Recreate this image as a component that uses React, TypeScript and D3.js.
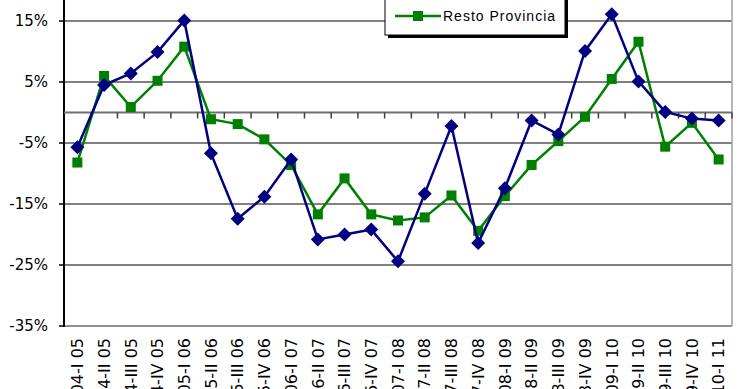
import React from "react";
import * as d3 from "d3";

const categories = [
  "I 04-I 05", "II 04-II 05", "III 04-III 05", "IV 04-IV 05",
  "I 05-I 06", "II 05-II 06", "III 05-III 06", "IV 05-IV 06",
  "I 06-I 07", "II 06-II 07", "III 06-III 07", "IV 06-IV 07",
  "I 07-I 08", "II 07-II 08", "III 07-III 08", "IV 07-IV 08",
  "I 08-I 09", "II 08-II 09", "III 08-III 09", "IV 08-IV 09",
  "I 09-I 10", "II 09-II 10", "III 09-III 10", "IV 09-IV 10",
  "I 10-I 11",
];

const blueValues = [
  -5.7, 4.5, 6.4, 9.9, 15.1, -6.7, -17.4, -13.8, -7.7, -20.8, -20.0, -19.2,
  -24.4, -13.3, -2.2, -21.4, -12.4, -1.3, -3.6, 10.1, 16.1, 5.1, 0.1, -1.0, -1.3,
];

const greenValues = [
  -8.2, 6.0, 0.9, 5.2, 10.8, -1.1, -1.9, -4.4, -8.6, -16.7, -10.8, -16.7,
  -17.7, -17.2, -13.6, -19.4, -13.7, -8.6, -4.7, -0.7, 5.5, 11.6, -5.6, -1.7, -7.7,
];

const gridTicks = [25, 15, 5, -5, -15, -25, -35];
const labelTicks = [15, 5, -5, -15, -25, -35];
const legendLabel = "Resto Provincia";

const W = 740;
const H = 389;
const left = 64;
const right = 732;
const yMin = -35;
const yMax = 25;

export default function App() {
  const y = d3.scaleLinear().domain([yMin, yMax]).range([326, 326 - 60 * 6.1]);
  const x = d3.scaleBand<string>().domain(categories).range([left, right]).padding(0);
  const cx = (i: number) => (x(categories[i]) as number) + x.bandwidth() / 2;

  const line = d3
    .line<number>()
    .x((_, i) => cx(i))
    .y((d) => y(d));

  const diamond = (px: number, py: number, r: number) =>
    `M${px},${py - r}L${px + r},${py}L${px},${py + r}L${px - r},${py}Z`;

  const y0 = y(0);
  const font = "'DejaVu Sans', Verdana, sans-serif";

  return (
    <div style={{ position: "absolute", left: 0, top: 0, width: W, height: H, background: "#fff" }}>
      <svg width={W} height={H} style={{ display: "block" }}>
        <rect x={0} y={0} width={W} height={H} fill="#fff" />
        {/* gridlines */}
        {gridTicks
          .filter((t) => t !== yMin)
          .map((t) => (
            <line key={t} x1={left} x2={right} y1={y(t)} y2={y(t)} stroke="#808080" strokeWidth={2} />
          ))}
        {/* plot border right & bottom */}
        <line x1={right} x2={right} y1={y(yMax)} y2={y(yMin)} stroke="#a0a0a0" strokeWidth={1.5} />
        <line x1={left} x2={right} y1={y(yMin)} y2={y(yMin)} stroke="#909090" strokeWidth={2} />
        {/* y axis */}
        <line x1={left} x2={left} y1={y(yMax)} y2={y(yMin) + 1} stroke="#000" strokeWidth={2} />
        {gridTicks.map((t) => (
          <line key={t} x1={left - 5} x2={left} y1={y(t)} y2={y(t)} stroke="#000" strokeWidth={1.5} />
        ))}
        {labelTicks.map((t) => (
          <text
            key={t}
            x={left - 16}
            y={y(t)}
            dy="0.36em"
            textAnchor="end"
            fontFamily={font}
            fontSize={15}
            fill="#000"
          >
            {`${t}%`}
          </text>
        ))}
        {/* category axis at 0 */}
        <line x1={left} x2={right} y1={y0} y2={y0} stroke="#707070" strokeWidth={2} />
        {categories.map((c, i) => {
          const bx = x(c) as number;
          return i === 0 ? null : (
            <line key={c} x1={bx} x2={bx} y1={y0} y2={y0 + 6} stroke="#404040" strokeWidth={1.5} />
          );
        })}
        <line x1={right} x2={right} y1={y0} y2={y0 + 6} stroke="#404040" strokeWidth={1.5} />
        {/* x labels */}
        {categories.map((c, i) => (
          <text
            key={c}
            transform={`translate(${cx(i)},${338}) rotate(-90)`}
            textAnchor="end"
            dy="0.36em"
            fontFamily={font}
            fontSize={16}
            fill="#000"
          >
            {c}
          </text>
        ))}
        {/* green series */}
        <path d={line(greenValues) || ""} fill="none" stroke="#008000" strokeWidth={2.5} />
        {greenValues.map((v, i) => (
          <rect key={i} x={cx(i) - 5} y={y(v) - 5} width={10} height={10} fill="#008000" />
        ))}
        {/* blue series */}
        <path d={line(blueValues) || ""} fill="none" stroke="#000080" strokeWidth={2.5} />
        {blueValues.map((v, i) => (
          <path key={i} d={diamond(cx(i), y(v), 7)} fill="#000080" />
        ))}
        {/* legend */}
        <rect x={388} y={-40} width={180} height={78} fill="#000" />
        <rect x={385} y={-43} width={180} height={78} fill="#fff" stroke="#000" strokeWidth={1} />
        <line x1={395} x2={441} y1={16} y2={16} stroke="#008000" strokeWidth={2.5} />
        <rect x={413} y={11} width={10} height={10} fill="#008000" />
        <text x={443} y={16} dy="0.36em" fontFamily="'Liberation Sans', Arial, sans-serif" fontSize={14} letterSpacing={1} fill="#000">
          {legendLabel}
        </text>
      </svg>
    </div>
  );
}
